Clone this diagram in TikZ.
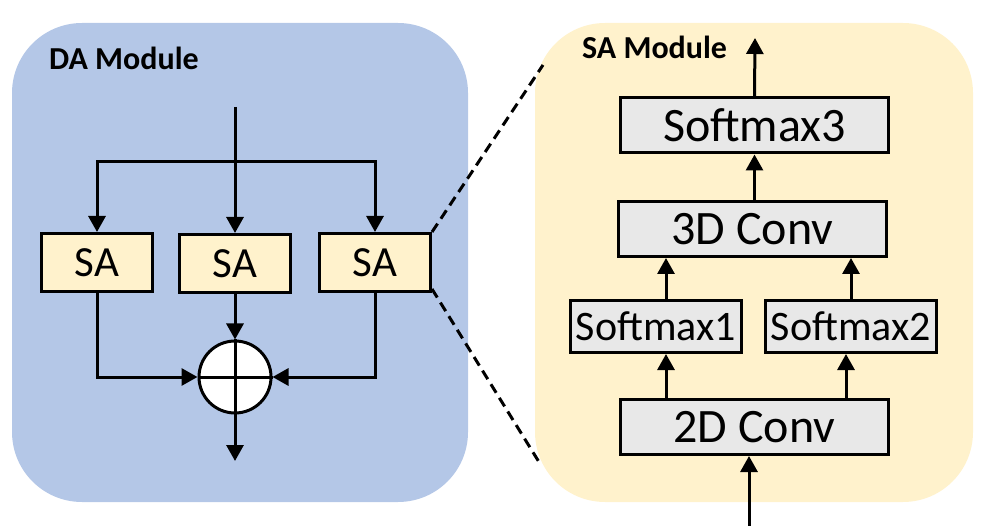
\documentclass[tikz,border=0pt]{standalone}
\usepackage{fontspec}
\setmainfont{Carlito}
\usetikzlibrary{arrows.meta}
\definecolor{dablue}{HTML}{B4C7E7}
\definecolor{sayellow}{HTML}{FFF2CC}
\definecolor{boxgrey}{HTML}{E8E8E8}
\begin{document}
\begin{tikzpicture}[x=1pt,y=-1pt,
  arr/.style={line width=3pt,-{Triangle[width=17pt,length=16pt]}},
  ln/.style={line width=3pt},
  module/.style={rounded corners=70pt,inner sep=0pt},
  sabox/.style={draw,line width=3pt,fill=sayellow,minimum width=111pt,minimum height=58pt,inner sep=0pt,font=\fontsize{43}{47}\selectfont},
  gbox/.style={draw,line width=3pt,fill=boxgrey,minimum width=268pt,minimum height=55pt,inner sep=0pt,font=\fontsize{48}{52}\selectfont},
  sbox/.style={gbox,minimum width=171pt,minimum height=52pt,font=\fontsize{42}{46}\selectfont},
  modlabel/.style={font=\bfseries\fontsize{32}{36}\selectfont,anchor=base west,inner sep=0pt},
  dash line/.style={line width=3pt,dash pattern=on 10pt off 6pt},
]
\useasboundingbox (0,0) rectangle (990,526);
% modules
\node[module,fill=dablue,minimum width=456pt,minimum height=479pt] (da) at (240,262.5) {};
\node[module,fill=sayellow,minimum width=438pt,minimum height=479pt] (sam) at (754,262.5) {};
\node[modlabel] (dalabel) at (49,70) {DA Module};
\node[modlabel] (salabel) at (582,59) {SA Module};
% DA module content
\node[sabox] (sa1) at (97,262.5) {SA};
\node[sabox] (sa2) at (235,263.5) {SA};
\node[sabox] (sa3) at (375,262.5) {SA};
\node[circle,draw,line width=3pt,fill=white,minimum size=72pt,inner sep=0pt] (sum) at (235,377) {};
\draw[ln] (sum.north) -- (sum.south) (sum.west) -- (sum.east);
\coordinate (in) at (235,107);
\coordinate (split) at (235,162);
\coordinate (out) at (235,461);
\draw[arr] (in) -- (sa2.north);
\draw[arr] (split) -| (sa1.north);
\draw[arr] (split) -| (sa3.north);
\draw[arr] (sa2.south) -- (sum.north);
\draw[arr] (sa1.south) |- (sum.west);
\draw[arr] (sa3.south) |- (sum.east);
\draw[arr] (sum.south) -- (out);
% zoom lines
\coordinate (ztop) at (543,65);
\coordinate (zbot) at (539,462);
\draw[dash line] (sa3.north east) -- (ztop);
\draw[dash line] ([yshift=4pt]sa3.south east) -- (zbot);
% SA module content
\node[gbox] (s3) at (754.5,125.5) {Softmax3};
\node[gbox] (c3) at (752.5,229) {3D Conv};
\node[sbox] (s1) at (656,326.5) {Softmax1};
\node[sbox] (s2) at (851,326.5) {Softmax2};
\node[gbox] (c2) at (754.5,427) {2D Conv};
\coordinate (saout) at (755,38);
\coordinate (sain) at (749,526);
\draw[arr] (s3.north) -- (saout);
\draw[arr] (c3.north -| s3.north) -- (s3.south);
\draw[arr] ([xshift=10pt]s1.north) -- ([xshift=10pt]s1.north |- c3.south);
\draw[arr] (s2.north) -- (s2.north |- c3.south);
\draw[arr] ([xshift=10pt]c2.north -| s1.north) -- ([xshift=10pt]s1.south);
\draw[arr] ([xshift=-5pt]c2.north -| s2.north) -- ([xshift=-5pt]s2.south);
\draw[arr] (sain) -- (c2.south -| sain);
\end{tikzpicture}
\end{document}
